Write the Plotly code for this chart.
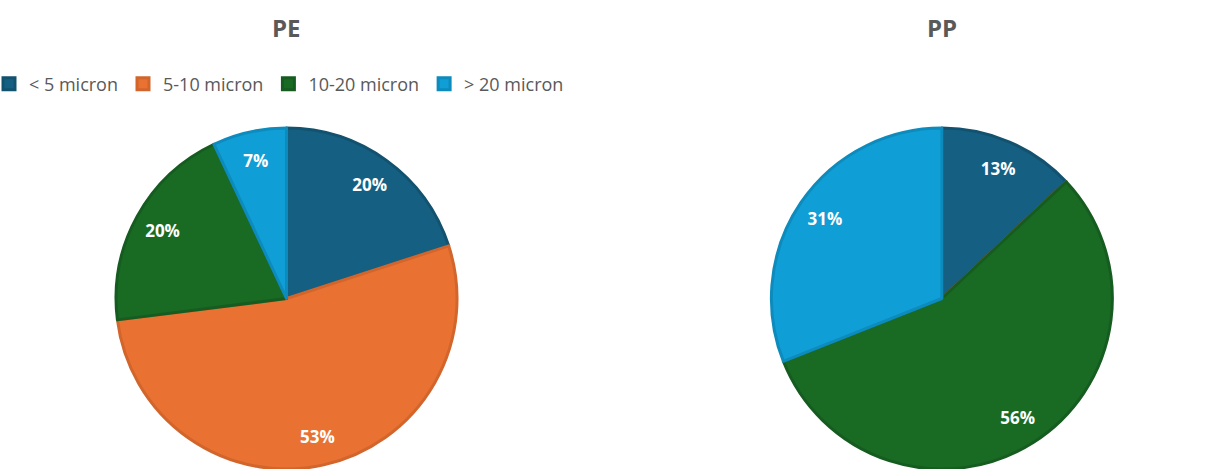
import plotly.graph_objects as go

# Particle size classes and their share (%) for each polymer
size_classes = ["< 5 micron", "5-10 micron", "10-20 micron", "> 20 micron"]
pe_share = [20, 53, 20, 7]
pp_share = [13, 0, 56, 31]

fill_colors = ["#156082", "#E97132", "#196B24", "#0F9ED5"]
edge_colors = ["#12526F", "#D2652C", "#165C20", "#0D8BBC"]

TEXT_GRAY = "#595959"
FONT = "Open Sans"

PE_DOMAIN = dict(x=[0.0707, 0.3975], y=[0, 0.727])
PP_DOMAIN = dict(x=[0.606, 0.933], y=[0, 0.727])


def labels_for(values):
    return ["%{value}%" if v > 0 else "" for v in values]


def slice_trace(values, domain, legend_id):
    # filled slices with a darker outline, no text
    return go.Pie(
        labels=size_classes,
        values=values,
        sort=False,
        direction="clockwise",
        rotation=0,
        marker=dict(colors=fill_colors, line=dict(color=edge_colors, width=3)),
        textinfo="none",
        domain=domain,
        legend=legend_id,
        hoverinfo="label+percent",
    )


def label_trace(values, domain):
    # transparent ring that carries the percentage labels toward the rim
    return go.Pie(
        labels=size_classes,
        values=values,
        sort=False,
        direction="clockwise",
        rotation=0,
        hole=0.66,
        marker=dict(colors=["rgba(0,0,0,0)"] * len(values), line=dict(width=0)),
        texttemplate=labels_for(values),
        textposition="inside",
        insidetextorientation="horizontal",
        textfont=dict(family=FONT, size=17, color="white", weight="bold"),
        domain=domain,
        showlegend=False,
        hoverinfo="skip",
    )


fig = go.Figure()
fig.add_trace(slice_trace(pe_share, PE_DOMAIN, "legend"))
fig.add_trace(slice_trace(pp_share, PP_DOMAIN, "legend2"))
fig.add_trace(label_trace(pe_share, PE_DOMAIN))
fig.add_trace(label_trace(pp_share, PP_DOMAIN))

title_font = dict(family=FONT, size=24, color=TEXT_GRAY, weight="bold")
legend_font = dict(family=FONT, size=18, color=TEXT_GRAY)

fig.update_layout(
    width=1224,
    height=469,
    margin=dict(l=0, r=0, t=0, b=0, autoexpand=False),
    paper_bgcolor="white",
    plot_bgcolor="white",
    font=dict(family=FONT, color=TEXT_GRAY),
    annotations=[
        dict(text="PE", x=286 / 1224, y=1 - 28 / 469, xref="paper", yref="paper",
             xanchor="center", yanchor="middle", showarrow=False, font=title_font),
        dict(text="PP", x=942 / 1224, y=1 - 28 / 469, xref="paper", yref="paper",
             xanchor="center", yanchor="middle", showarrow=False, font=title_font),
    ],
    legend=dict(
        orientation="h", x=-11 / 1224, y=1 - 84 / 469, xanchor="left", yanchor="middle",
        font=legend_font, bgcolor="rgba(0,0,0,0)", traceorder="normal",
    ),
    legend2=dict(
        orientation="h", x=645 / 1224, y=1 - 84 / 469, xanchor="left", yanchor="middle",
        font=legend_font, bgcolor="rgba(0,0,0,0)", traceorder="normal",
    ),
)

fig.write_html("out.html")
